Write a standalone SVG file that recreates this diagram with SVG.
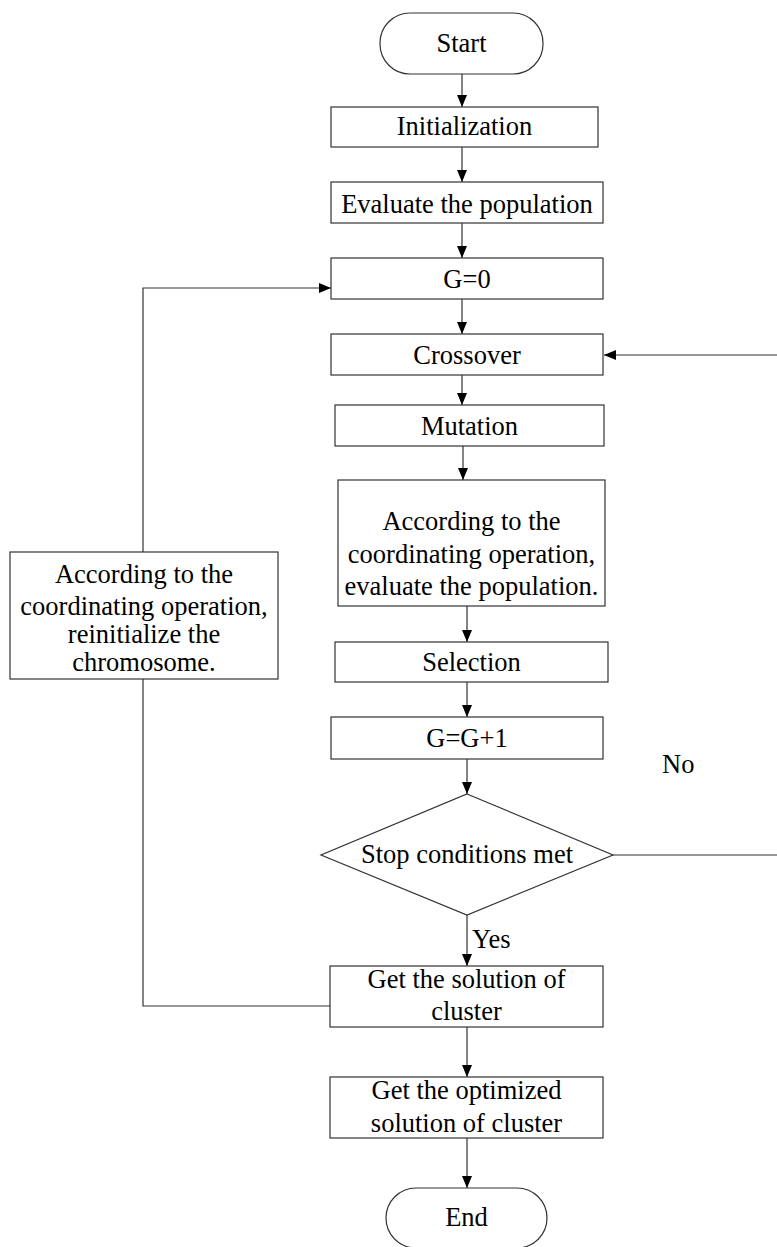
<svg xmlns="http://www.w3.org/2000/svg" width="777" height="1247" viewBox="0 0 777 1247">
  <style>
    .box { fill: #ffffff; stroke: #333333; stroke-width: 1.2; }
    .line { fill: none; stroke: #333333; stroke-width: 1.2; }
    .t { font-family: 'Liberation Serif', 'DejaVu Serif', serif; font-size: 26.5px; fill: #000000; text-anchor: middle; }
    .lbl { text-anchor: start; }
  </style>
  <defs>
    <marker id="arrow" viewBox="0 0 12 10" refX="12" refY="5" markerWidth="12" markerHeight="10" markerUnits="userSpaceOnUse" orient="auto">
      <path d="M0,0 L12,5 L0,10 Z" fill="#000000"/>
    </marker>
  </defs>
  <rect width="777" height="1247" fill="#ffffff"/>

  <!-- connectors -->
  <g id="connectors">
    <line class="line" x1="462" y1="74" x2="462" y2="107" marker-end="url(#arrow)"/>
    <line class="line" x1="462" y1="147" x2="462" y2="182" marker-end="url(#arrow)"/>
    <line class="line" x1="462" y1="223" x2="462" y2="258" marker-end="url(#arrow)"/>
    <line class="line" x1="462" y1="299" x2="462" y2="334" marker-end="url(#arrow)"/>
    <line class="line" x1="462" y1="375" x2="462" y2="405" marker-end="url(#arrow)"/>
    <line class="line" x1="463" y1="446" x2="463" y2="480" marker-end="url(#arrow)"/>
    <line class="line" x1="467" y1="606" x2="467" y2="642" marker-end="url(#arrow)"/>
    <line class="line" x1="467" y1="682" x2="467" y2="717" marker-end="url(#arrow)"/>
    <line class="line" x1="467" y1="759" x2="467" y2="794" marker-end="url(#arrow)"/>
    <line class="line" x1="467" y1="915" x2="467" y2="966" marker-end="url(#arrow)"/>
    <line class="line" x1="467" y1="1027" x2="467" y2="1077" marker-end="url(#arrow)"/>
    <line class="line" x1="467" y1="1138" x2="467" y2="1188" marker-end="url(#arrow)"/>
    <!-- "No" branch back to Crossover -->
    <path class="line" d="M613,855 H780 V355 H604" marker-end="url(#arrow)"/>
    <!-- return path from the cluster solution back to G=0 -->
    <path class="line" d="M330,1006 H143 V288 H331" marker-end="url(#arrow)"/>
    <text class="t lbl" x="662" y="773">No</text>
    <text class="t lbl" x="472" y="948">Yes</text>
  </g>

  <g id="start">
    <rect class="box" x="380" y="13" width="163" height="61" rx="30" ry="30"/>
    <text class="t" x="461.5" y="52">Start</text>
  </g>
  <g id="init">
    <rect class="box" x="331" y="107" width="267" height="40"/>
    <text class="t" x="464.5" y="135">Initialization</text>
  </g>
  <g id="evaluate">
    <rect class="box" x="331" y="182" width="272" height="41"/>
    <text class="t" x="467" y="213">Evaluate the population</text>
  </g>
  <g id="g0">
    <rect class="box" x="331" y="258" width="272" height="41"/>
    <text class="t" x="467" y="288">G=0</text>
  </g>
  <g id="crossover">
    <rect class="box" x="331" y="334" width="272" height="41"/>
    <text class="t" x="467" y="364">Crossover</text>
  </g>
  <g id="mutation">
    <rect class="box" x="335" y="405" width="269" height="41"/>
    <text class="t" x="469.5" y="435">Mutation</text>
  </g>
  <g id="evaluate-coord">
    <rect class="box" x="338" y="480" width="267" height="126"/>
    <text class="t" x="471.5" y="530">According to the</text>
    <text class="t" x="471.5" y="563">coordinating operation,</text>
    <text class="t" x="471.5" y="595">evaluate the population.</text>
  </g>
  <g id="selection">
    <rect class="box" x="335" y="642" width="273" height="40"/>
    <text class="t" x="471.5" y="671">Selection</text>
  </g>
  <g id="g-inc">
    <rect class="box" x="331" y="717" width="272" height="42"/>
    <text class="t" x="467" y="747">G=G+1</text>
  </g>
  <g id="stop">
    <polygon class="box" points="467,794 613,855 467,915 321,855"/>
    <text class="t" x="467" y="863">Stop conditions met</text>
  </g>
  <g id="reinit">
    <rect class="box" x="10" y="552" width="268" height="127"/>
    <text class="t" x="144" y="583">According to the</text>
    <text class="t" x="144" y="615">coordinating operation,</text>
    <text class="t" x="144" y="643">reinitialize the</text>
    <text class="t" x="144" y="671">chromosome.</text>
  </g>
  <g id="solution">
    <rect class="box" x="330" y="966" width="273" height="61"/>
    <text class="t" x="466.5" y="988">Get the solution of</text>
    <text class="t" x="466.5" y="1020">cluster</text>
  </g>
  <g id="optimized">
    <rect class="box" x="330" y="1077" width="273" height="61"/>
    <text class="t" x="466.5" y="1099">Get the optimized</text>
    <text class="t" x="466.5" y="1132">solution of cluster</text>
  </g>
  <g id="end">
    <rect class="box" x="386" y="1188" width="161" height="60" rx="30" ry="30"/>
    <text class="t" x="466.5" y="1226">End</text>
  </g>
</svg>
